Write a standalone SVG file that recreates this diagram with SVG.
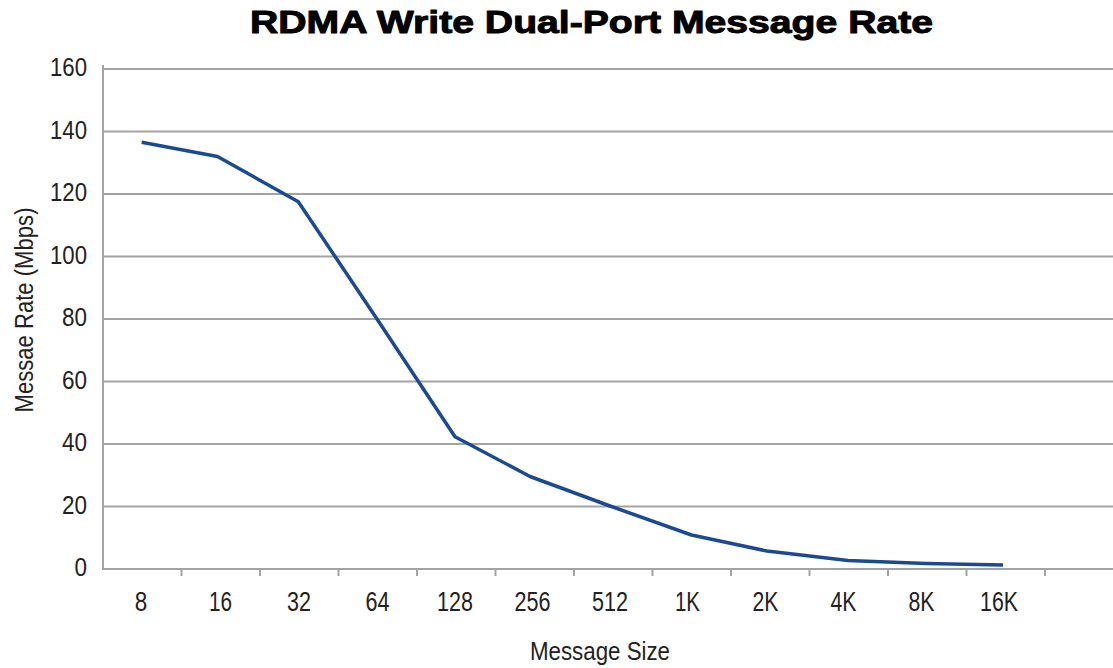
<svg xmlns="http://www.w3.org/2000/svg" width="1113" height="668" viewBox="0 0 1113 668">
<style>
.title{font-family:"Liberation Sans",Arial,sans-serif;font-weight:900;font-size:32px;fill:#000;stroke:#000;stroke-width:1;stroke-linejoin:round}
.yl{font-family:"Liberation Sans",Arial,sans-serif;font-size:25px;fill:#222;text-anchor:end}
.xl{font-family:"Liberation Sans",Arial,sans-serif;font-size:27px;fill:#222;text-anchor:middle}
.at{font-family:"Liberation Sans",Arial,sans-serif;font-size:26px;fill:#222;text-anchor:middle}
.grid{stroke:#a3a3a3;stroke-width:2;fill:none}
.series{stroke:#1c4a91;stroke-width:3.5;fill:none;stroke-linejoin:round;stroke-linecap:butt}
</style>
<rect width="1113" height="668" fill="#fff"/>
<text class="title" x="250" y="33" textLength="683" lengthAdjust="spacingAndGlyphs">RDMA Write Dual-Port Message Rate</text>
<g id="grid">
<line class="grid" x1="103" y1="69" x2="1113" y2="69"/>
<line class="grid" x1="103" y1="131.5" x2="1113" y2="131.5"/>
<line class="grid" x1="103" y1="194" x2="1113" y2="194"/>
<line class="grid" x1="103" y1="256.5" x2="1113" y2="256.5"/>
<line class="grid" x1="103" y1="319" x2="1113" y2="319"/>
<line class="grid" x1="103" y1="381.5" x2="1113" y2="381.5"/>
<line class="grid" x1="103" y1="444" x2="1113" y2="444"/>
<line class="grid" x1="103" y1="506.5" x2="1113" y2="506.5"/>
<line class="grid" x1="103" y1="569" x2="1113" y2="569"/>
<line class="grid" x1="103" y1="65" x2="103" y2="570"/>
<path class="grid" d="M181.5 569v7M260 569v7M338.5 569v7M417 569v7M495.5 569v7M574 569v7M652.5 569v7M731 569v7M809.5 569v7M888 569v7M966.5 569v7M1045 569v7"/>
</g>
<g id="y-labels">
<text class="yl" x="87" y="76" textLength="37" lengthAdjust="spacingAndGlyphs">160</text>
<text class="yl" x="87" y="138.5" textLength="37" lengthAdjust="spacingAndGlyphs">140</text>
<text class="yl" x="87" y="201" textLength="37" lengthAdjust="spacingAndGlyphs">120</text>
<text class="yl" x="87" y="263.5" textLength="37" lengthAdjust="spacingAndGlyphs">100</text>
<text class="yl" x="87" y="326" textLength="25" lengthAdjust="spacingAndGlyphs">80</text>
<text class="yl" x="87" y="388.5" textLength="25" lengthAdjust="spacingAndGlyphs">60</text>
<text class="yl" x="87" y="451" textLength="25" lengthAdjust="spacingAndGlyphs">40</text>
<text class="yl" x="87" y="513.5" textLength="25" lengthAdjust="spacingAndGlyphs">20</text>
<text class="yl" x="87" y="576" textLength="12.5" lengthAdjust="spacingAndGlyphs">0</text>
</g>
<g id="x-labels">
<text class="xl" x="141" y="611" textLength="12.5" lengthAdjust="spacingAndGlyphs">8</text>
<text class="xl" x="220.5" y="611" textLength="23" lengthAdjust="spacingAndGlyphs">16</text>
<text class="xl" x="299" y="611" textLength="24" lengthAdjust="spacingAndGlyphs">32</text>
<text class="xl" x="377.5" y="611" textLength="24" lengthAdjust="spacingAndGlyphs">64</text>
<text class="xl" x="455" y="611" textLength="36" lengthAdjust="spacingAndGlyphs">128</text>
<text class="xl" x="532.5" y="611" textLength="36" lengthAdjust="spacingAndGlyphs">256</text>
<text class="xl" x="610" y="611" textLength="36" lengthAdjust="spacingAndGlyphs">512</text>
<text class="xl" x="687.5" y="611" textLength="25" lengthAdjust="spacingAndGlyphs">1K</text>
<text class="xl" x="765.5" y="611" textLength="26" lengthAdjust="spacingAndGlyphs">2K</text>
<text class="xl" x="843.5" y="611" textLength="26" lengthAdjust="spacingAndGlyphs">4K</text>
<text class="xl" x="921.5" y="611" textLength="26" lengthAdjust="spacingAndGlyphs">8K</text>
<text class="xl" x="999" y="611" textLength="38" lengthAdjust="spacingAndGlyphs">16K</text>
</g>
<g id="axis-titles">
<text class="at" x="600" y="660" textLength="140" lengthAdjust="spacingAndGlyphs">Message Size</text>
<text class="at" transform="translate(33 310) rotate(-90)" x="0" y="0" textLength="205" lengthAdjust="spacingAndGlyphs">Messae Rate (Mbps)</text>
</g>
<g id="series">
<polyline class="series" points="141.7,142.3 217.5,156.5 298.3,201.7 377,319 455,436.7 530,476.5 610,506 691.5,535 767,551 848,560.5 926,563.5 1003,565"/>
</g>
</svg>
